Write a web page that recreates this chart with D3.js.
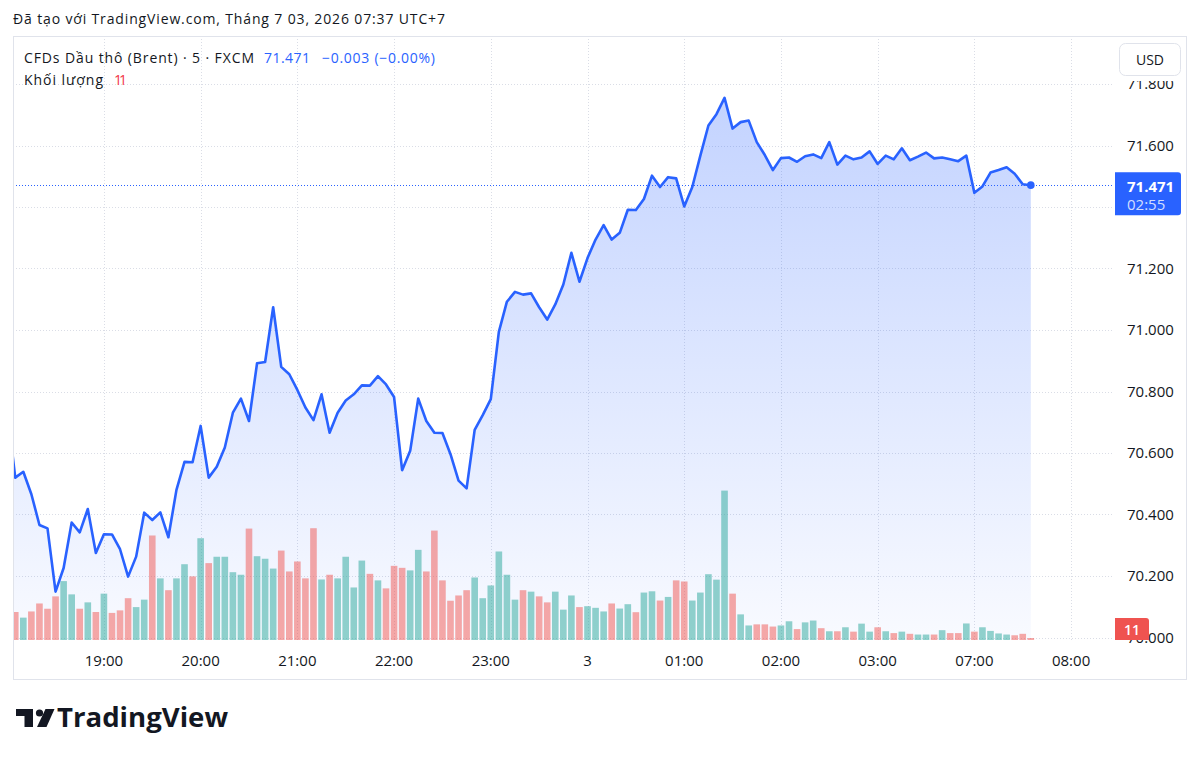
<!DOCTYPE html>
<html>
<head>
<meta charset="utf-8">
<script src="https://cdnjs.cloudflare.com/ajax/libs/d3/7.8.5/d3.min.js"></script>
<style>
  body { margin: 0; background: #fff; }
  text { font-family: 'Open Sans', Roboto, sans-serif; }
</style>
</head>
<body>
<div id="chart"></div>
<script>
// 5 minute closes, 18:00 (clipped at left edge) to 07:35
const closes = [
  70.740, 70.520, 70.539, 70.466, 70.366, 70.355, 70.149, 70.226, 70.374, 70.342,
  70.418, 70.275, 70.336, 70.335, 70.287, 70.198, 70.263, 70.406, 70.382, 70.407,
  70.326, 70.480, 70.571, 70.570, 70.688, 70.520, 70.555, 70.618, 70.731, 70.777,
  70.704, 70.892, 70.896, 71.074, 70.880, 70.856, 70.805, 70.748, 70.707, 70.791,
  70.666, 70.731, 70.771, 70.791, 70.820, 70.819, 70.850, 70.823, 70.782, 70.544,
  70.607, 70.777, 70.704, 70.666, 70.665, 70.596, 70.510, 70.485, 70.675, 70.723,
  70.775, 70.994, 71.092, 71.124, 71.115, 71.119, 71.074, 71.034, 71.083, 71.148,
  71.251, 71.157, 71.234, 71.294, 71.341, 71.294, 71.316, 71.391, 71.390, 71.426,
  71.502, 71.465, 71.497, 71.493, 71.402, 71.465, 71.567, 71.665, 71.702, 71.755,
  71.655, 71.676, 71.681, 71.611, 71.569, 71.520, 71.559, 71.561, 71.547, 71.565,
  71.571, 71.559, 71.611, 71.538, 71.567, 71.555, 71.561, 71.581, 71.540, 71.567,
  71.555, 71.591, 71.552, 71.564, 71.577, 71.558, 71.561, 71.555, 71.549, 71.567,
  71.446, 71.467, 71.512, 71.520, 71.529, 71.508, 71.474, 71.471
]

const volumes = [
  30, 154, 123, 157, 201, 172, 240, 324, 251, 172,
  207, 154, 255, 149, 163, 230, 181, 222, 575, 339,
  274, 339, 417, 350, 560, 423, 458, 458, 373, 359,
  613, 461, 447, 393, 492, 377, 432, 339, 615, 333,
  359, 339, 458, 289, 437, 364, 328, 284, 408, 397,
  383, 496, 377, 602, 328, 216, 245, 274, 344, 230,
  300, 487, 359, 222, 274, 266, 240, 207, 266, 167,
  245, 181, 186, 177, 157, 201, 173, 197, 153, 261,
  268, 217, 237, 328, 322, 217, 261, 362, 332, 822,
  255, 141, 80, 86, 86, 74, 80, 103, 60, 97,
  107, 65, 48, 48, 70, 46, 90, 46, 70, 48,
  38, 46, 34, 30, 30, 30, 54, 38, 38, 91,
  46, 70, 50, 36, 30, 26, 34, 11
]

const tickIndex = [12, 24, 36, 48, 60, 72, 84, 96, 108, 120, 132]
const tickLabels = ['19:00', '20:00', '21:00', '22:00', '23:00', '3', '01:00', '02:00', '03:00', '07:00', '08:00']
const priceTicks = [70.0, 70.2, 70.4, 70.6, 70.8, 71.0, 71.2, 71.4, 71.6, 71.8]

const W = 1200
const H = 759
const pane = { left: 13, right: 1113, top: 36, bottom: 640 }
const axisBottom = 679

const svg = d3.select('#chart')
  .append('svg')
  .attr('width', W)
  .attr('height', H)
  .style('display', 'block')

svg.append('rect').attr('width', W).attr('height', H).attr('fill', '#fff')

const x = d3.scaleLinear().domain([0, 127]).range([7.2, 1030.8])
const y = d3.scaleLinear().domain([70, 71.8]).range([637.5, 84])
const yVol = d3.scaleLinear().domain([0, d3.max(volumes)]).range([pane.bottom, pane.bottom - 149.4])

const defs = svg.append('defs')
defs.append('clipPath').attr('id', 'paneClip')
  .append('rect')
  .attr('x', pane.left + 1).attr('y', pane.top + 1)
  .attr('width', pane.right - pane.left - 1).attr('height', pane.bottom - pane.top - 1)

const grad = defs.append('linearGradient')
  .attr('id', 'areaFill')
  .attr('gradientUnits', 'userSpaceOnUse')
  .attr('x1', 0).attr('x2', 0)
  .attr('y1', y(d3.max(closes))).attr('y2', pane.bottom)
grad.append('stop').attr('offset', 0).attr('stop-color', '#2962ff').attr('stop-opacity', 0.28)
grad.append('stop').attr('offset', 1).attr('stop-color', '#2962ff').attr('stop-opacity', 0.03)

// small helper: text pinned to a measured width
function label (px, py, str, width, size, color) {
  const t = svg.append('text')
    .attr('x', px).attr('y', py)
    .attr('font-size', size)
    .attr('fill', color || '#131722')
    .text(str)
  if (width) t.attr('textLength', width).attr('lengthAdjust', 'spacing')
  return t
}

// header
label(13, 24, 'Đã tạo với TradingView.com, Tháng 7 03, 2026 07:37 UTC+7', 432, 14)

// frame
svg.append('rect')
  .attr('x', pane.left + 0.5).attr('y', pane.top + 0.5)
  .attr('width', 1186 - pane.left).attr('height', axisBottom - pane.top)
  .attr('fill', 'none')
  .attr('stroke', '#e0e3eb')

const plot = svg.append('g').attr('clip-path', 'url(#paneClip)')

// grid
plot.selectAll('.hgrid')
  .data(priceTicks)
  .enter()
  .append('line')
  .attr('class', 'hgrid')
  .attr('x1', pane.left).attr('x2', pane.right)
  .attr('y1', d => Math.round(y(d)) + 0.5).attr('y2', d => Math.round(y(d)) + 0.5)
  .attr('stroke', '#dadde6')
  .attr('stroke-dasharray', '1,2')

plot.selectAll('.vgrid')
  .data(tickIndex)
  .enter()
  .append('line')
  .attr('class', 'vgrid')
  .attr('x1', d => Math.round(x(d)) + 0.5).attr('x2', d => Math.round(x(d)) + 0.5)
  .attr('y1', pane.top).attr('y2', pane.bottom)
  .attr('stroke', '#dadde6')
  .attr('stroke-dasharray', '1,2')

// area
const area = d3.area()
  .x((d, i) => x(i))
  .y0(pane.bottom)
  .y1(d => y(d))

plot.append('path')
  .datum(closes)
  .attr('d', area)
  .attr('fill', 'url(#areaFill)')

// volume
plot.selectAll('.vol')
  .data(volumes)
  .enter()
  .append('rect')
  .attr('class', 'vol')
  .attr('x', (d, i) => x(i) - 3.3)
  .attr('width', 6.6)
  .attr('y', d => yVol(d))
  .attr('height', d => pane.bottom - yVol(d))
  .attr('fill', (d, i) => (i > 0 && closes[i] > closes[i - 1]) ? '#26a69a' : '#ef5350')
  .attr('fill-opacity', 0.5)

// last price dotted line
const last = closes[closes.length - 1]
plot.append('line')
  .attr('x1', pane.left).attr('x2', pane.right)
  .attr('y1', Math.round(y(last)) + 0.5).attr('y2', Math.round(y(last)) + 0.5)
  .attr('stroke', '#2962ff')
  .attr('stroke-dasharray', '1,2')

// line
const line = d3.line()
  .x((d, i) => x(i))
  .y(d => y(d))

plot.append('path')
  .datum(closes)
  .attr('d', line)
  .attr('fill', 'none')
  .attr('stroke', '#2962ff')
  .attr('stroke-width', 2.6)
  .attr('stroke-linejoin', 'round')

plot.append('circle')
  .attr('cx', x(closes.length - 1))
  .attr('cy', y(last))
  .attr('r', 3.8)
  .attr('fill', '#2962ff')

// price axis (ticks hidden under the last price label are skipped, like TV)
const ly = y(last)
svg.selectAll('.plabel')
  .data(priceTicks.filter(d => Math.abs(y(d) - (ly + 9)) > 28))
  .enter()
  .append('text')
  .attr('class', 'plabel')
  .attr('x', 1127)
  .attr('y', d => y(d))
  .attr('dy', '0.36em')
  .attr('font-size', 15)
  .attr('fill', '#131722')
  .text(d => d3.format('.3f')(d))

// cover under the currency button
svg.append('rect')
  .attr('x', pane.right + 1).attr('y', pane.top + 1)
  .attr('width', 1186 - pane.right - 1).attr('height', 44)
  .attr('fill', '#fff')

svg.append('rect')
  .attr('x', 1119.5).attr('y', 43.5)
  .attr('width', 61).attr('height', 32)
  .attr('rx', 6)
  .attr('fill', '#fff')
  .attr('stroke', '#e0e3eb')

svg.append('text')
  .attr('x', 1150).attr('y', 59.5)
  .attr('dy', '0.36em')
  .attr('text-anchor', 'middle')
  .attr('font-size', 14)
  .attr('fill', '#131722')
  .text('USD')

// last price label
svg.append('path')
  .attr('d', `M1115,${ly - 13}h63a3,3 0 0 1 3,3v37a3,3 0 0 1 -3,3h-63z`)
  .attr('fill', '#2962ff')

svg.append('text')
  .attr('x', 1127).attr('y', ly + 1)
  .attr('dy', '0.36em')
  .attr('font-size', 15)
  .attr('font-weight', 700)
  .attr('fill', '#fff')
  .text(d3.format('.3f')(last))

svg.append('text')
  .attr('x', 1127).attr('y', ly + 19)
  .attr('dy', '0.36em')
  .attr('font-size', 15)
  .attr('fill', '#fff')
  .attr('fill-opacity', 0.8)
  .text('02:55')

// volume label (sits over the 70.000 tick, as in TV)
const lastVol = volumes[volumes.length - 1]
svg.append('path')
  .attr('d', 'M1115,618h31a3,3 0 0 1 3,3v19h-34z')
  .attr('fill', '#ef5350')

svg.append('text')
  .attr('x', 1132).attr('y', 629.5)
  .attr('dy', '0.36em')
  .attr('text-anchor', 'middle')
  .attr('font-size', 14)
  .attr('font-weight', 600)
  .attr('fill', '#fff')
  .text(lastVol)

// time axis
svg.selectAll('.tlabel')
  .data(tickIndex)
  .enter()
  .append('text')
  .attr('class', 'tlabel')
  .attr('x', d => x(d))
  .attr('y', 661)
  .attr('dy', '0.36em')
  .attr('text-anchor', 'middle')
  .attr('font-size', 15)
  .attr('fill', '#131722')
  .text((d, i) => tickLabels[i])

// legend
label(24, 63, 'CFDs Dầu thô (Brent) · 5 · FXCM', 230, 14)
label(264, 63, d3.format('.3f')(last), 46, 14, '#2962ff')
label(322, 63, '−0.003 (−0.00%)', 113, 14, '#2962ff')
label(24, 85, 'Khối lượng', 79, 14)
label(114, 85, String(lastVol), 13, 14, '#f23645')

// logo
const logo = svg.append('g').attr('fill', '#131722')
logo.append('path').attr('d', 'M16,709h17v18h-8.5v-11h-8.5z')
logo.append('circle').attr('cx', 39.5).attr('cy', 713).attr('r', 3.6)
logo.append('path').attr('d', 'M45.5,709h9l-8,18h-9.5z')
logo.append('text')
  .attr('x', 57).attr('y', 727)
  .attr('font-size', 26)
  .attr('font-weight', 700)
  .attr('textLength', 171)
  .attr('lengthAdjust', 'spacingAndGlyphs')
  .attr('fill', '#131722')
  .text('TradingView')
</script>
</body>
</html>
